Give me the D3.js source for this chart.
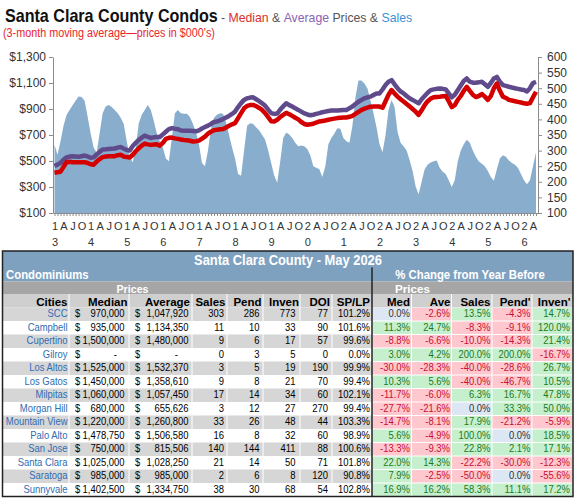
<!DOCTYPE html>
<html>
<head>
<meta charset="utf-8">
<script src="https://cdnjs.cloudflare.com/ajax/libs/d3/7.8.5/d3.min.js"></script>
<style>
body { margin: 0; background: #fff; }
svg { display: block; font-family: "Liberation Sans", Arial, sans-serif; }
</style>
</head>
<body>
<svg id="chart" width="575" height="501"></svg>
<script>
// monthly 3-month moving averages, Jan 2013 .. May 2026 (prices in $000's)
var years = ["13", "14", "15", "16", "17", "18", "19", "20", "21", "22", "23", "24", "25", "26"];
var quarterLetters = ["A", "J", "O"];
var priceTicks = [100, 300, 500, 700, 900, 1100, 1300];
var salesTicks = [100, 150, 200, 250, 300, 350, 400, 450, 500, 550, 600];

var medianPrice = [
  410, 414, 418, 455, 490, 494, 491, 491, 491, 491, 491, 485,
  475, 471, 495, 515, 530, 534, 537, 537, 537, 545, 548, 535,
  530, 527, 548, 575, 598, 618, 634, 628, 624, 627, 629, 618,
  640, 670, 678, 680, 674, 670, 665, 662, 660, 656, 650, 652,
  657, 672, 688, 710, 725, 736, 741, 744, 746, 758, 771, 782,
  791, 830, 868, 905, 924, 930, 931, 922, 908, 893, 868, 838,
  806, 804, 817, 838, 855, 870, 860, 847, 833, 820, 800, 785,
  779, 782, 787, 796, 804, 808, 812, 817, 822, 826, 830, 832,
  834, 835, 840, 847, 862, 878, 892, 903, 910, 918, 919, 919,
  919, 910, 960, 1010, 1046, 1020, 995, 975, 957, 938, 920, 900,
  880, 855, 890, 930, 960, 980, 990, 993, 995, 998, 1000, 960,
  915, 930, 970, 1000, 1040, 1071, 1040, 1010, 992, 1000, 1015, 995,
  970, 1000, 1060, 1096, 1040, 995, 985, 970, 965, 960, 955, 950,
  944, 940, 945, 990, 1033
];

var averagePrice = [
  461, 472, 486, 510, 528, 534, 537, 535, 532, 537, 542, 535,
  525, 528, 550, 570, 588, 590, 593, 595, 596, 603, 608, 595,
  585, 580, 615, 640, 662, 680, 695, 685, 677, 682, 685, 685,
  705, 725, 745, 753, 748, 745, 735, 733, 733, 732, 730, 728,
  736, 750, 761, 772, 785, 800, 804, 813, 822, 835, 847, 862,
  880, 915, 945, 970, 982, 988, 990, 975, 960, 944, 925, 895,
  868, 862, 865, 895, 920, 944, 930, 919, 905, 893, 880, 866,
  858, 852, 856, 862, 868, 875, 880, 885, 888, 888, 888, 890,
  892, 893, 905, 919, 938, 955, 970, 982, 990, 995, 1008, 1020,
  1020, 1050, 1084, 1110, 1122, 1090, 1060, 1035, 1020, 1000, 982, 970,
  957, 944, 975, 1000, 1025, 1045, 1051, 1055, 1058, 1055, 1051, 1020,
  990, 1010, 1045, 1080, 1115, 1135, 1110, 1102, 1102, 1105, 1109, 1090,
  1071, 1100, 1135, 1147, 1110, 1084, 1078, 1071, 1065, 1060, 1055, 1050,
  1046, 1035, 1060, 1100, 1109
];

var sales = [
  319, 287, 330, 380, 414, 430, 445, 460, 473, 472, 460, 409,
  356, 310, 293, 356, 420, 441, 446, 440, 430, 420, 405, 385,
  330, 280, 262, 310, 388, 415, 430, 446, 430, 395, 355, 330,
  310, 275, 266, 340, 420, 430, 420, 418, 418, 408, 385, 360,
  320, 260, 250, 300, 370, 405, 415, 420, 418, 390, 350, 310,
  275, 225, 219, 300, 380, 388, 385, 375, 365, 350, 335, 300,
  260, 220, 197, 265, 340, 358, 352, 340, 325, 314, 316, 314,
  305, 285, 250, 245, 240, 215, 250, 320, 340, 355, 372, 370,
  340, 330, 325, 380, 470, 525, 525, 515, 499, 460, 420, 375,
  320, 295, 350, 430, 462, 440, 360, 325, 314, 300, 270, 235,
  185, 160, 200, 240, 255, 262, 266, 268, 245, 232, 225, 205,
  183, 205, 265, 300, 320, 335, 325, 300, 280, 265, 258, 250,
  235, 215, 203, 240, 275, 285, 280, 268, 260, 255, 245, 225,
  205, 192, 205, 250, 295
];

// table, May 2026
var cities = ["SCC", "Campbell", "Cupertino", "Gilroy", "Los Altos", "Los Gatos", "Milpitas",
  "Morgan Hill", "Mountain View", "Palo Alto", "San Jose", "Santa Clara", "Saratoga", "Sunnyvale"];
var cityMedian = [970000, 935000, 1500000, null, 1525000, 1450000, 1060000, 680000, 1220000, 1478750, 750000, 1025000, 985000, 1402500];
var cityAverage = [1047920, 1134350, 1480000, null, 1532370, 1358610, 1057450, 655626, 1260800, 1506580, 815506, 1028250, 985000, 1334750];
var citySales = [303, 11, 9, 0, 3, 9, 17, 3, 33, 16, 140, 21, 2, 38];
var cityPend = [286, 10, 6, 3, 5, 8, 14, 12, 26, 8, 144, 14, 6, 30];
var cityInven = [773, 33, 17, 5, 19, 21, 34, 27, 48, 32, 411, 50, 8, 68];
var cityDoi = [77, 90, 57, 0, 190, 70, 60, 270, 44, 60, 88, 71, 120, 54];
var citySpLp = [101.2, 101.6, 99.6, 0.0, 99.9, 99.4, 102.1, 99.4, 103.3, 98.9, 100.6, 101.8, 90.8, 102.8];
var chgMed = [0.0, 11.3, -8.8, 3.0, -30.0, 10.3, -11.7, -27.7, -14.7, 5.6, -13.3, 22.0, 7.9, 16.9];
var chgAve = [-2.6, 24.7, -6.6, 4.2, -28.3, 5.6, -6.0, -21.6, -8.1, -4.9, -9.3, 14.3, -2.5, 16.2];
var chgSales = [13.5, -8.3, -10.0, 200.0, -40.0, -40.0, 6.3, 0.0, 17.9, 100.0, 22.8, -22.2, -50.0, 58.3];
var chgPend = [-4.3, -9.1, -14.3, 200.0, -28.6, -46.7, 16.7, 33.3, -21.2, 0.0, 2.1, -30.0, 0.0, 11.1];
var chgInven = [14.7, 120.0, 21.4, -16.7, 26.7, 10.5, 47.8, 50.0, -5.9, 18.5, 17.1, -12.3, -55.6, 17.2];

var svg = d3.select("#chart");

// squeeze a text to a given width (the screenshot fonts are narrow)
function placeText(parent, x, y, anchor) {
  var g = parent.append("g").attr("transform", "translate(" + x + "," + y + ")");
  return g.append("text").attr("text-anchor", anchor || "start");
}
function fit(t, width) {
  var w = t.node().getBBox().width;
  if (w > 0) t.attr("transform", "scale(" + (width / w) + ",1)");
  return t;
}

// ---- titles
var t1 = placeText(svg, 5, 22).attr("font-size", 18).attr("font-weight", "bold").attr("fill", "#111")
  .text("Santa Clara County Condos");
fit(t1, 213);

var t2 = placeText(svg, 221, 22).attr("font-size", 13).attr("fill", "#555");
t2.append("tspan").text("- ");
t2.append("tspan").attr("fill", "#d9302c").text("Median");
t2.append("tspan").text(" & ");
t2.append("tspan").attr("fill", "#8a63b4").text("Average");
t2.append("tspan").text(" Prices & ");
t2.append("tspan").attr("fill", "#3b93d8").text("Sales");
fit(t2, 191);

var t3 = placeText(svg, 3, 37).attr("font-size", 12).attr("fill", "#e8262b")
  .text("(3-month moving average\u2014prices in $000's)");
fit(t3, 212);

// ---- chart
var x = d3.scaleLinear().domain([-0.5, medianPrice.length - 0.5]).range([53, 537.5]);
var yL = d3.scaleLinear().domain([100, 1300]).range([213, 57]);
var yR = d3.scaleLinear().domain([100, 600]).range([213, 57]);

var area = d3.area()
  .x(function(d, i) { return x(i); })
  .y0(yR(100))
  .y1(function(d) { return yR(d); });

svg.append("path").datum(sales)
  .attr("fill", "#89adcc")
  .attr("d", area);

function lineFor(scale) {
  return d3.line()
    .x(function(d, i) { return x(i); })
    .y(function(d) { return scale(d); });
}

svg.append("path").datum(averagePrice)
  .attr("fill", "none")
  .attr("stroke", "#5f4a8b")
  .attr("stroke-width", 4.5)
  .attr("stroke-linejoin", "round")
  .attr("d", lineFor(yL));

svg.append("path").datum(medianPrice)
  .attr("fill", "none")
  .attr("stroke", "#d40000")
  .attr("stroke-width", 4.5)
  .attr("stroke-linejoin", "round")
  .attr("d", lineFor(yL));

var gL = svg.append("g").attr("transform", "translate(53,0)")
  .call(d3.axisLeft(yL).tickValues(priceTicks).tickSize(4).tickSizeOuter(0).tickPadding(3)
    .tickFormat(function(d) { return "$" + d3.format(",")(d); }));

var gR = svg.append("g").attr("transform", "translate(538,0)")
  .call(d3.axisRight(yR).tickValues(salesTicks).tickSize(4).tickSizeOuter(0).tickPadding(5));

var gX = svg.append("g").attr("transform", "translate(0,213)")
  .call(d3.axisBottom(x).tickValues(d3.range(medianPrice.length)).tickSize(3).tickSizeOuter(0).tickPadding(6)
    .tickFormat(function(i) {
      var m = i % 12;
      if (m === 0) return years[i / 12].charAt(0);
      if (m % 3 === 0) return quarterLetters[m / 3 - 1];
      return "";
    }));

gX.selectAll(".tick text")
  .filter(function(i) { return i % 12 === 0; })
  .append("tspan")
  .attr("x", 0)
  .attr("dy", "1.45em")
  .text(function(i) { return years[i / 12].charAt(1); });

[gL, gR, gX].forEach(function(g) {
  g.selectAll(".domain").attr("stroke", "#8c8c8c");
  g.selectAll(".tick line").attr("stroke", "#8c8c8c");
  g.selectAll("text").attr("fill", "#333").attr("font-family", "Liberation Sans, Arial, sans-serif");
});
gL.selectAll("text").attr("font-size", 12);
gR.selectAll("text").attr("font-size", 12);
gX.selectAll("text").attr("font-size", 11);

// ---- table
var tbl = svg.append("g");
var blue = "#7fa1c0";
var rowH = 13.5, dataTop = 307.5, tableBottom = dataTop + rowH * cities.length;
var leftEdges = [2.5, 69, 129, 192, 227, 263, 300, 332, 372];
var rightEdges = [372, 411.5, 451.5, 492, 532, 573];

tbl.append("rect").attr("x", 2.5).attr("y", 251).attr("width", 570.5).attr("height", 30.5).attr("fill", blue);
tbl.append("rect").attr("x", 2.5).attr("y", 281.5).attr("width", 570.5).attr("height", 12.5).attr("fill", "#a6a6a6");
tbl.append("rect").attr("x", 2.5).attr("y", 294).attr("width", 570.5).attr("height", 13.5).attr("fill", "#cfcfcf");

cities.forEach(function(c, i) {
  if (i % 2 === 0) {
    tbl.append("rect").attr("x", 2.5).attr("y", dataTop + i * rowH)
      .attr("width", 369.5).attr("height", rowH).attr("fill", "#d6d6d6");
  }
});

// white cell separators on the left block
leftEdges.slice(1, -1).forEach(function(e) {
  tbl.append("line").attr("x1", e).attr("x2", e).attr("y1", 294).attr("y2", tableBottom)
    .attr("stroke", "#fff").attr("stroke-width", 1);
});
rightEdges.slice(1, -1).forEach(function(e) {
  tbl.append("line").attr("x1", e).attr("x2", e).attr("y1", 294).attr("y2", 307.5)
    .attr("stroke", "#fff").attr("stroke-width", 1);
});

var K = 0.9;
function cellText(x, y, s, anchor, color, size, weight) {
  return tbl.append("text")
    .attr("x", x / K).attr("y", y)
    .attr("transform", "scale(" + K + ",1)")
    .attr("text-anchor", anchor)
    .attr("font-size", size || 10.5)
    .attr("font-weight", weight || "normal")
    .attr("fill", color || "#000")
    .text(s);
}

// headers
fit(placeText(tbl, 288, 265, "middle").attr("font-size", 15).attr("font-weight", "bold").attr("fill", "#fff")
  .text("Santa Clara County - May 2026"), 188);
fit(placeText(tbl, 6, 279).attr("font-size", 12).attr("font-weight", "bold").attr("fill", "#fff")
  .text("Condominiums"), 83);
fit(placeText(tbl, 470, 279, "middle").attr("font-size", 12).attr("font-weight", "bold").attr("fill", "#fff")
  .text("% Change from Year Before"), 150);
fit(placeText(tbl, 132.5, 292.5, "middle").attr("font-size", 11.5).attr("font-weight", "bold").attr("fill", "#fff")
  .text("Prices"), 32);
fit(placeText(tbl, 412.5, 292.5, "middle").attr("font-size", 11.5).attr("font-weight", "bold").attr("fill", "#fff")
  .text("Prices"), 35);

var leftHeads = ["Cities", "Median", "Average", "Sales", "Pend", "Inven", "DOI", "SP/LP"];
var leftHeadX = [67.5, 127.5, 190, 225.5, 261.5, 299, 330, 370];
leftHeads.forEach(function(h, j) {
  tbl.append("text").attr("x", leftHeadX[j]).attr("y", 305.5).attr("text-anchor", "end")
    .attr("font-size", 11.5).attr("font-weight", "bold").attr("fill", "#000").text(h);
});
var rightHeads = ["Med", "Ave", "Sales", "Pend'", "Inven'"];
var rightHeadX = [410, 450.5, 490.5, 530.5, 570.5];
rightHeads.forEach(function(h, j) {
  tbl.append("text").attr("x", rightHeadX[j]).attr("y", 305.5).attr("text-anchor", "end")
    .attr("font-size", 11.5).attr("font-weight", "bold").attr("fill", "#000").text(h);
});

// rows
var money = d3.format(",");
var pctCols = [chgMed, chgAve, chgSales, chgPend, chgInven];
var pctX = [410, 450, 490.5, 530.5, 570];

cities.forEach(function(c, i) {
  var top = dataTop + i * rowH;
  var base = top + 9.8;

  cellText(67.5, base, c, "end", "#2e6db4");
  cellText(75, base, "$", "start");
  if (cityMedian[i] == null) cellText(117, base, "-", "end");
  else cellText(124.5, base, money(cityMedian[i]), "end");
  cellText(135, base, "$", "start");
  if (cityAverage[i] == null) cellText(178, base, "-", "end");
  else cellText(188.5, base, money(cityAverage[i]), "end");
  cellText(224, base, citySales[i], "end");
  cellText(259.5, base, cityPend[i], "end");
  cellText(295.5, base, cityInven[i], "end");
  cellText(328, base, cityDoi[i], "end");
  cellText(370, base, citySpLp[i].toFixed(1) + "%", "end");

  pctCols.forEach(function(col, j) {
    var v = col[i];
    var bg = v > 0 ? "#c6efce" : (v < 0 ? "#ffc7ce" : "#dde7f3");
    var fg = v > 0 ? "#1d7a1d" : (v < 0 ? "#c8102e" : "#333");
    tbl.append("rect")
      .attr("x", rightEdges[j] + 0.5).attr("y", top + 0.5)
      .attr("width", rightEdges[j + 1] - rightEdges[j] - 1).attr("height", rowH - 1)
      .attr("fill", bg);
    cellText(pctX[j], base, v.toFixed(1) + "%", "end", fg);
  });
});

// borders
tbl.append("line").attr("x1", 372).attr("x2", 372).attr("y1", 267.5).attr("y2", tableBottom)
  .attr("stroke", "#222").attr("stroke-width", 1.5);
tbl.append("rect").attr("x", 2.5).attr("y", 251).attr("width", 570.5).attr("height", tableBottom - 251)
  .attr("fill", "none").attr("stroke", "#222").attr("stroke-width", 1.5);
</script>
</body>
</html>
